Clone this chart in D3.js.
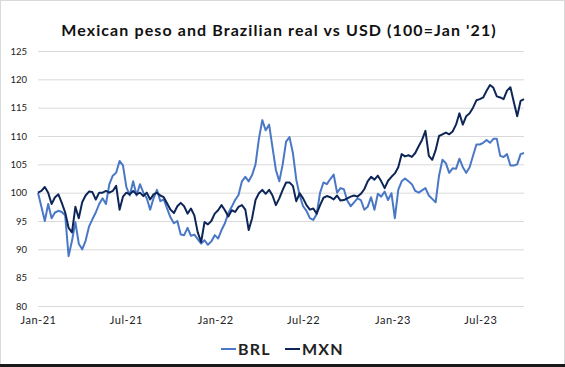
<!DOCTYPE html>
<html>
<head>
<meta charset="utf-8">
<script src="https://cdn.jsdelivr.net/npm/d3@7"></script>
<style>
  body { margin: 0; background: #fff; }
  svg { display: block; font-family: Lato, "Open Sans", sans-serif; }
</style>
</head>
<body>
<div id="chart"></div>
<script>
var width = 565;
var height = 367;

var title = "Mexican peso and Brazilian real vs USD (100=Jan '21)";
var firstWeek = "2021-01-01";
var lastDate = "2023-09-29";
var yTicks = [80, 85, 90, 95, 100, 105, 110, 115, 120, 125];
var xTickDates = ["2021-01-01", "2021-07-01", "2022-01-01", "2022-07-01", "2023-01-01", "2023-07-01"];
var seriesNames = ["BRL", "MXN"];

// weekly index values
var brl = [100, 97.5, 95, 98, 95.5, 96.5, 96.8, 96.6, 96, 88.8,
  91.5, 94.8, 91, 90, 91.5, 94, 95.3, 96.5, 98, 99,
  98, 101.5, 103, 103.5, 105.6, 104.8, 101, 99.5, 102, 99.5,
  101.5, 100, 99, 97, 99, 100.5, 98.5, 98.8, 97.2, 95.6,
  94.6, 95, 92.6, 92.5, 93.8, 92.4, 92.6, 91.8, 91, 91.6,
  90.8, 91.4, 92.5, 91.9, 93.4, 94.6, 96.4, 97.5, 98.7, 99.6,
  102, 102.8, 102, 103.1, 105, 109.5, 112.8, 111, 112, 108,
  104, 102, 105, 109, 109.8, 107, 102.3, 99.5, 97.6, 96.8,
  95.5, 95.2, 96.2, 100, 101.8, 101.5, 102.4, 103.2, 100, 100.8,
  100.6, 98.6, 97.6, 98.3, 99, 98.7, 97, 97.5, 99.2, 97,
  99.8, 99.3, 100.2, 98.7, 99.9, 95.5, 100.5, 102, 102.5, 102,
  101.5, 100.3, 100, 100.4, 100.8, 99.5, 98.9, 98.3, 103, 105.8,
  105.2, 103.5, 104.3, 104.2, 106, 104.5, 103.5, 104.5, 106.5, 108.5,
  108.5, 108.8, 109.3, 108.8, 109.5, 109.5, 106.5, 106.3, 106.8, 104.8,
  104.8, 105, 106.8, 107];

var mxn = [100, 100.3, 101, 100, 98, 99.2, 99.7, 98.2, 96.5, 93.8,
  93, 97.5, 95.5, 98.3, 99.5, 100.2, 100.1, 98.8, 100, 100,
  100.3, 100, 100.3, 101.2, 97, 99.3, 100, 99.7, 100.3, 99.7,
  100, 99.4, 100, 98.8, 99.7, 100, 99.5, 99.2, 98.1, 97,
  96.4, 97.6, 98.2, 97.6, 96.3, 97.2, 96, 93, 91.3, 94.8,
  94.4, 95, 96.3, 96.9, 97.8, 96.9, 95.8, 96.9, 96.6, 97.5,
  97.8, 97, 93.4, 95.5, 98.7, 99.9, 100.5, 99.8, 100.5, 99.5,
  97.8, 99, 100.5, 101.8, 101.8, 101.2, 98.5, 99.9, 99, 97.8,
  97, 97.2, 96.3, 97.8, 99.1, 99.4, 99.2, 98.8, 99.5, 98.6,
  98.7, 99, 99.3, 99.5, 99.3, 99.8, 100.6, 102, 102.8, 102.3,
  103, 102, 100.8, 102.1, 102.8, 103.4, 104.5, 106.8, 106.4, 106.6,
  106.3, 107, 108.2, 109.3, 110.9, 106.5, 105.8, 107.5, 110, 110.3,
  110.6, 110.3, 110.8, 112, 114, 112, 113.5, 114, 115, 116.3,
  116.5, 116.8, 118, 119, 118.5, 117, 116.8, 116.5, 118, 118.6,
  116, 113.5, 116.2, 116.5];

var colors = ["#4a78c6", "#0d2657"];

var parse = d3.timeParse("%Y-%m-%d");
var start = parse(firstWeek);
var dates = brl.map(function(d, i) { return d3.timeDay.offset(start, 7 * i); });

var svg = d3.select("#chart").append("svg").attr("width", width).attr("height", height);

// outer frame
svg.append("rect").attr("x", 0.5).attr("y", 0.5).attr("width", width - 1).attr("height", height - 3)
  .attr("fill", "none").attr("stroke", "#d9d9d9");
svg.append("rect").attr("x", 0).attr("y", 364).attr("width", width).attr("height", 3).attr("fill", "#1a1a1a");

var x = d3.scaleTime().domain([start, parse(lastDate)]).range([38, 524]);
var y = d3.scaleLinear().domain([80, 125]).range([306, 51]);

svg.append("text").attr("x", 279).attr("y", 36).attr("text-anchor", "middle")
  .attr("font-size", 16).attr("font-weight", "bold").attr("letter-spacing", 1.1).attr("fill", "#111")
  .text(title);

// gridlines + y labels
svg.append("g").attr("transform", "translate(38,0)")
  .call(d3.axisLeft(y).tickValues(yTicks).tickSize(-486).tickPadding(11))
  .call(function(g) {
    g.select(".domain").remove();
    g.selectAll(".tick line").attr("stroke", "#d9d9d9");
    g.selectAll(".tick text").attr("font-size", 9.5).attr("fill", "#222").attr("font-family", "Lato, sans-serif");
  });

svg.append("g").attr("transform", "translate(0,312)")
  .call(d3.axisBottom(x).tickValues(xTickDates.map(parse)).tickFormat(d3.timeFormat("%b-%y")).tickSize(0).tickPadding(4))
  .call(function(g) {
    g.select(".domain").remove();
    g.selectAll(".tick text").attr("font-size", 11).attr("fill", "#222").attr("font-family", "Lato, sans-serif")
      .attr("letter-spacing", 0.5);
  });

var line = d3.line()
  .x(function(d, i) { return x(dates[i]); })
  .y(function(d) { return y(d); });

[brl, mxn].forEach(function(s, k) {
  svg.append("path").datum(s)
    .attr("d", line)
    .attr("fill", "none")
    .attr("stroke", colors[k])
    .attr("stroke-width", 2)
    .attr("stroke-linejoin", "round");
});

// legend
var legend = svg.append("g").attr("transform", "translate(0,349)");
var legX = [221, 285];
seriesNames.forEach(function(name, k) {
  legend.append("line").attr("x1", legX[k]).attr("x2", legX[k] + 15).attr("y1", 0).attr("y2", 0)
    .attr("stroke", colors[k]).attr("stroke-width", 2);
  legend.append("text").attr("x", legX[k] + 17).attr("y", 6)
    .attr("font-size", 16).attr("font-weight", "bold").attr("letter-spacing", 1.2).attr("fill", "#222")
    .text(name);
});
</script>
</body>
</html>
